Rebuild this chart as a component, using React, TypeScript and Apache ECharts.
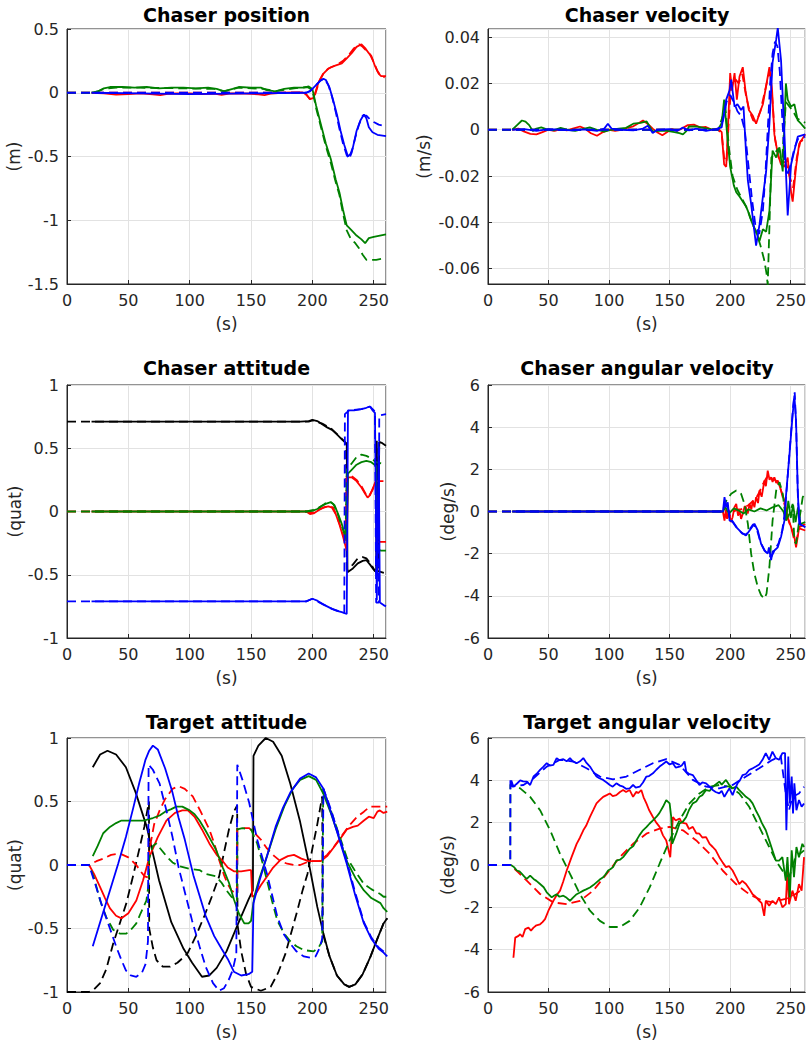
import React, { useEffect, useRef } from "react";
import * as echarts from "echarts";

type P = [number, number][];

// ---------- Panel titles / axis names ----------
const titles = ["Chaser position", "Chaser velocity", "Chaser attitude", "Chaser angular velocity", "Target attitude", "Target angular velocity"];
const yNames = ["(m)", "(m/s)", "(quat)", "(deg/s)", "(quat)", "(deg/s)"];
const xName = "(s)";

// ---------- Chaser position (m) ----------
const posRedSolid: P = [[20,0],[30,-0.005],[40,-0.015],[50,-0.01],[60,-0.005],[70,-0.012],[76,-0.018],[82,-0.008],[90,-0.006],[100,-0.005],[110,-0.01],[120,-0.006],[126,-0.016],[132,-0.006],[140,-0.005],[150,-0.008],[156,-0.012],[161,-0.018],[166,-0.006],[175,0],[185,0.003],[192,0.002],[195,-0.012],[198,-0.05],[201,-0.04],[205,0.08],[209,0.15],[213,0.19],[218,0.21],[224,0.23],[228,0.27],[232,0.31],[236,0.36],[240,0.38],[243,0.35],[246,0.31],[248,0.29],[251,0.21],[254,0.15],[256,0.13],[260,0.13]];
const posRedDashed: P = [[0,0],[190,0],[195,-0.015],[198,-0.05],[202,-0.02],[206,0.1],[210,0.17],[215,0.2],[220,0.22],[225,0.25],[230,0.3],[234,0.35],[238,0.38],[241,0.36],[244,0.33],[247,0.3],[250,0.24],[253,0.17],[256,0.13],[259,0.12]];
const posGreenSolid: P = [[20,0],[25,0.01],[30,0.035],[35,0.045],[45,0.045],[55,0.04],[65,0.045],[75,0.035],[85,0.04],[95,0.04],[105,0.035],[115,0.04],[122,0.03],[128,0.01],[135,0.03],[140,0.045],[150,0.04],[158,0.04],[163,0.02],[170,0.01],[177,0.03],[185,0.04],[193,0.04],[197,0.05],[200,0.03],[203,-0.1],[207,-0.25],[211,-0.4],[215,-0.52],[219,-0.68],[222,-0.78],[225,-0.92],[228,-1.04],[232,-1.08],[236,-1.12],[240,-1.15],[243,-1.18],[246,-1.14],[250,-1.13],[255,-1.12],[260,-1.11]];
const posGreenDashed: P = [[0,0],[20,0],[25,0.01],[30,0.03],[40,0.04],[60,0.04],[90,0.035],[120,0.03],[128,0.012],[140,0.04],[160,0.03],[170,0.012],[185,0.035],[196,0.045],[200,0.02],[203,-0.12],[207,-0.27],[211,-0.42],[215,-0.55],[219,-0.7],[222,-0.8],[225,-0.95],[228,-1.08],[231,-1.14],[235,-1.18],[238,-1.22],[241,-1.27],[244,-1.31],[248,-1.31],[252,-1.31],[258,-1.3]];
const posBlueSolid: P = [[20,0],[60,-0.005],[100,-0.01],[150,-0.005],[195,0],[198,0.01],[202,0.05],[206,0.09],[209,0.11],[211,0.1],[214,0.04],[217,-0.06],[220,-0.17],[223,-0.3],[226,-0.41],[229,-0.5],[231,-0.48],[233,-0.43],[236,-0.3],[239,-0.22],[242,-0.17],[244,-0.2],[246,-0.27],[249,-0.31],[253,-0.33],[260,-0.34]];
const posBlueDashed: P = [[0,0],[195,0],[199,0.02],[203,0.06],[207,0.1],[210,0.11],[213,0.06],[216,-0.03],[219,-0.15],[222,-0.28],[225,-0.4],[228,-0.49],[230,-0.52],[232,-0.47],[235,-0.35],[238,-0.25],[241,-0.18],[244,-0.18],[247,-0.21],[250,-0.23],[254,-0.25],[258,-0.26]];

// ---------- Chaser velocity (m/s) ----------
const velRedSolid: P = [[20,0],[25,0.0005],[30,-0.0008],[35,-0.0018],[40,-0.002],[45,-0.001],[50,0],[55,-0.0005],[60,0.0003],[65,-0.0003],[70,0.0005],[76,0.0014],[80,0.0005],[85,-0.0015],[90,-0.0026],[95,-0.001],[100,0],[105,-0.0005],[110,0],[115,0.0008],[120,0.0015],[125,0.003],[128,0.004],[132,0.0025],[136,0.0005],[140,-0.0012],[144,-0.0024],[148,-0.001],[152,0.0003],[156,-0.0005],[160,0.0005],[165,0.002],[170,0.0022],[175,0.001],[180,0.0012],[185,0],[190,0.0005],[193,-0.001],[195,-0.015],[196.7,-0.016],[198,-0.002],[200,0.0245],[201.6,0.017],[203.6,0.0245],[205.5,0.013],[207.7,0.023],[210.4,0.027],[212.6,0.017],[215.4,0.0085],[218.7,0.006],[221.4,0.0026],[224.2,0.007],[227,0.011],[229.7,0.019],[232.4,0.027],[234.6,0.017],[236.5,-0.002],[239.3,-0.0105],[242,-0.015],[244.8,-0.016],[247.5,-0.012],[250.3,-0.027],[251.6,-0.031],[254.4,-0.016],[257,-0.006],[262,-0.002]];
const velRedDashed: P = [[0,0],[190,0],[193,-0.002],[195,-0.012],[197,-0.014],[199,0.005],[201,0.02],[204,0.022],[207,0.02],[210,0.024],[213,0.015],[216,0.008],[219,0.004],[222,0.004],[225,0.008],[228,0.015],[231,0.022],[233,0.025],[235,0.012],[237,-0.004],[240,-0.012],[243,-0.014],[246,-0.014],[249,-0.02],[252,-0.025],[255,-0.012],[258,-0.005],[262,-0.004]];
const velGreenSolid: P = [[20,0],[24,0.002],[28,0.004],[31,0.0035],[34,0.002],[37,-0.0005],[40,0.0005],[44,0.001],[48,0.0003],[54,-0.0003],[60,0.0008],[66,0],[72,-0.0005],[78,0.0003],[84,0.001],[90,0],[96,-0.0008],[102,0],[108,0.0005],[114,0.0008],[120,0.0026],[126,0.003],[131,0.0036],[134,0.001],[136,-0.0007],[142,-0.0005],[148,-0.0005],[154,-0.001],[158,-0.0015],[161,-0.002],[164,-0.0005],[166,0.0014],[172,0.0015],[178,0.0008],[184,0.0003],[190,0],[193,0.003],[195,0.013],[198,-0.005],[200,-0.016],[203,-0.024],[205,-0.027],[208,-0.029],[210.4,-0.031],[213,-0.033],[214.6,-0.035],[216.5,-0.038],[218.7,-0.041],[221.4,-0.044],[224.2,-0.048],[227,-0.043],[229.7,-0.044],[232.4,-0.035],[235,-0.009],[238,-0.012],[240.7,-0.0076],[243.4,-0.018],[246,0.02],[247.5,0.013],[250.3,0.01],[253,0.011],[255.8,0.004],[258.5,0.0026],[262,0.0005]];
const velGreenDashed: P = [[0,0],[190,0],[194,0.006],[196,0.01],[199,-0.008],[202,-0.02],[206,-0.026],[210,-0.03],[214,-0.034],[218,-0.04],[222,-0.045],[225,-0.05],[228,-0.056],[230,-0.062],[231,-0.067],[232.5,-0.04],[234,-0.012],[237,-0.01],[240,-0.008],[243,-0.012],[246,0.012],[249,0.01],[252,0.008],[255,0.005],[258,0.004],[262,0.003]];
const velBlueSolid: P = [[20,0],[30,0.0003],[40,-0.0005],[50,0.0003],[60,0],[70,-0.0003],[80,0.0002],[90,-0.0005],[96,0.0005],[99,0.0026],[102,0.0005],[110,0],[120,-0.0003],[128,0.0005],[132,0.0017],[136,-0.0014],[140,0],[150,0.0003],[156,-0.0005],[161,0.001],[166,-0.0003],[172,0.0005],[180,-0.0005],[188,0.0003],[193,0.001],[196.7,0.013],[199.5,0.017],[200.8,0.0216],[203.6,0.01],[206,0.011],[209,0.0085],[211,0.01],[213,-0.009],[214.6,-0.022],[217.3,-0.032],[220,-0.044],[221.4,-0.05],[224.2,-0.041],[227,-0.029],[229.7,-0.018],[232.4,0.0026],[235,0.029],[238,0.039],[239.3,0.044],[242,0.03],[244.8,-0.002],[247.5,-0.037],[250.3,-0.015],[253,-0.009],[255.8,-0.003],[262,-0.002]];
const velBlueDashed: P = [[0,0],[190,0],[194,0.004],[197,0.012],[200,0.015],[203,0.012],[206,0.008],[209,0.006],[212,0],[215,-0.015],[218,-0.03],[221,-0.042],[224,-0.045],[227,-0.035],[229,-0.02],[231,0],[233,0.02],[235,0.033],[237,0.038],[239,0.036],[241,0.025],[243,0.005],[245,-0.012],[247,-0.02],[250,-0.015],[253,-0.008],[256,-0.004],[262,-0.003]];

// ---------- Chaser attitude (quat) ----------
const attRedSolid: P = [[20,0],[195,0],[198,-0.02],[201,-0.015],[205,0.01],[209,0.03],[213,0.04],[216,0.03],[219,-0.02],[222,-0.1],[225,-0.2],[228,-0.31],[229,0.27],[232,0.27],[236,0.24],[240,0.19],[243,0.14],[245,0.11],[247,0.13],[250,0.2],[252,0.25],[252.5,-0.24],[260,-0.24]];
const attRedDashed: P = [[0,0],[195,0],[200,-0.01],[205,0.015],[210,0.035],[214,0.045],[217,0.03],[220,-0.04],[224,-0.15],[227,-0.25],[228,0.28],[232,0.28],[236,0.25],[240,0.2],[244,0.13],[246,0.12],[249,0.17],[252,0.24],[260,0.24]];
const attGreenSolid: P = [[20,0],[195,0],[200,0.005],[204,0.02],[208,0.045],[212,0.065],[215,0.074],[218,0.05],[221,-0.02],[224,-0.1],[228,-0.23],[229,0.3],[232,0.33],[236,0.37],[240,0.39],[244,0.4],[248,0.39],[252,0.36],[252.5,-0.3],[256,-0.31],[260,-0.31]];
const attGreenDashed: P = [[0,0],[195,0],[200,0.01],[205,0.03],[210,0.06],[214,0.08],[217,0.06],[220,0],[224,-0.12],[227,-0.2],[228,0.33],[232,0.38],[236,0.43],[240,0.45],[244,0.44],[248,0.42],[252,0.39],[256,0.38],[260,0.37]];
const attBlueSolid: P = [[20,-0.71],[195,-0.71],[200,-0.69],[204,-0.705],[208,-0.73],[212,-0.75],[216,-0.77],[220,-0.785],[224,-0.795],[228,-0.81],[229,0.8],[234,0.8],[240,0.81],[244,0.82],[247,0.83],[249,0.8],[251,0.78],[252.5,-0.7],[254,0.55],[255,-0.72],[258,-0.74],[260,-0.75]];
const attBlueDashed: P = [[0,-0.71],[195,-0.71],[200,-0.69],[208,-0.73],[216,-0.77],[224,-0.795],[226,-0.8],[226.5,0.77],[230,0.8],[240,0.81],[247,0.83],[251,0.79],[252,-0.72],[254,-0.72],[254.5,0.76],[260,0.77]];
const attBlackSolid: P = [[20,0.71],[100,0.71],[190,0.71],[197,0.715],[200,0.724],[204,0.715],[208,0.69],[212,0.665],[216,0.645],[220,0.61],[224,0.57],[228,0.535],[228.6,-0.48],[233,-0.45],[237,-0.41],[241,-0.39],[244,-0.385],[247,-0.42],[250,-0.46],[252,-0.48],[252.5,0.56],[253.5,-0.45],[254.5,0.55],[257,0.54],[260,0.52]];
const attBlackDashed: P = [[0,0.71],[197,0.71],[200,0.72],[208,0.695],[216,0.65],[224,0.575],[227.5,0.54],[228,-0.46],[233,-0.42],[237,-0.37],[241,-0.36],[244,-0.37],[248,-0.42],[251,-0.47],[252,-0.48],[252.3,0.5],[253,-0.47],[260,-0.49]];

// ---------- Chaser angular velocity (deg/s) ----------
const angRedSolid: P = [[20,0],[194,0],[195.3,-0.43],[196.5,0.1],[197.5,-0.35],[199,0.05],[200.5,-0.5],[202,-0.27],[203.5,0.2],[205,0.36],[206.5,-0.2],[207.7,0.05],[209,-0.35],[210.4,-0.1],[212,0.25],[213,0.2],[214.5,-0.1],[216,0.36],[217.5,0.1],[218.7,0.52],[220,0.2],[221.4,0.68],[223,0.4],[224.2,1.0],[226,0.7],[228.3,1.47],[229.5,1.2],[231,1.94],[232.5,1.5],[233.8,1.62],[235,1.4],[236.5,1.62],[238,1.35],[239.3,1.47],[242,1.0],[244.8,0.52],[247.5,-0.27],[250.3,-0.74],[253,-1.2],[254.4,-1.7],[257,-0.74],[262,-0.6]];
const angRedDashed: P = [[0,0],[194,0],[197,-0.3],[200,-0.2],[203,0],[206,0.1],[209,0.1],[212,0.2],[215,0.3],[218,0.45],[221,0.6],[224,0.9],[227,1.3],[230,1.6],[233,1.65],[236,1.55],[239,1.4],[242,1.0],[245,0.3],[248,-0.4],[251,-0.9],[253.5,-1.5],[255,-1.3],[257,-0.8],[262,-0.9]];
const angGreenSolid: P = [[20,0],[194,0],[196,0.2],[199,-0.1],[203,0.15],[207,0.05],[211,-0.1],[215,0.1],[220,0],[225,0.15],[230,0.05],[235,0.2],[240,0.3],[244,0],[246,-0.4],[248,0.5],[250,-0.3],[252,0.3],[254,-0.5],[256,0.2],[258,-0.6],[262,-0.5]];
const angGreenDashed: P = [[0,0],[194,0],[196.7,0.5],[200.8,0.84],[205,1.0],[209,0.84],[211.8,0.36],[214.6,-0.58],[217.3,-2.0],[220,-2.95],[222.8,-3.58],[225.5,-3.97],[228.3,-4.13],[230,-3.9],[232.4,-2.63],[235,-0.43],[238,1.0],[240.7,1.39],[243.4,0.84],[246,-0.43],[249,-0.1],[251.6,0.36],[253,-1.37],[254.4,-1.53],[257,-0.43],[259.9,0.68],[262,0.84]];
const angBlueSolid: P = [[20,0],[194,0],[195.3,0.68],[196.7,0.2],[198,0.44],[199.5,-0.43],[202,-0.5],[205,-0.74],[209,-0.98],[213,-1.14],[216,-0.9],[220,-0.58],[222.8,-0.9],[225.5,-1.53],[228.3,-1.85],[231,-2.0],[232,-1.7],[233.8,-2.3],[235,-1.9],[236.5,-1.85],[239.3,-1.7],[242,-1.2],[244.8,-0.43],[246,0.68],[249,2.73],[251.6,4.6],[253,5.5],[254.4,4.3],[255.8,1.0],[257,-0.58],[262,-0.74]];
const angBlueDashed: P = [[0,0],[194,0],[196,0.5],[198,0.2],[200,-0.3],[203,-0.55],[206,-0.8],[210,-1.05],[213,-1.1],[216,-0.85],[219,-0.6],[222,-0.85],[225,-1.45],[228,-1.8],[231,-2.05],[234,-2.15],[237,-1.8],[240,-1.5],[243,-0.9],[245,-0.1],[247,1.3],[249.5,3.2],[252,5.0],[253.3,5.65],[254.5,4.0],[256,0.5],[258,-0.7],[262,-0.75]];

// ---------- Target attitude (quat) ----------
const tatRedSolid: P = [[18,0],[22,-0.07],[26.8,-0.17],[31,-0.26],[34.9,-0.34],[40,-0.4],[44.4,-0.42],[50,-0.38],[56.5,-0.28],[62,-0.12],[67.4,0.07],[74,0.22],[81,0.35],[88,0.41],[94,0.43],[98.5,0.43],[104,0.38],[110,0.28],[116,0.17],[122,0.08],[127,0.03],[131,-0.02],[136,-0.05],[142,-0.05],[148.5,-0.04],[150,-0.04],[151,-0.25],[153,-0.24],[158,-0.16],[163,-0.09],[168,-0.02],[174,0.04],[180,0.07],[185,0.08],[191,0.05],[197,0.03],[202,0.03],[206.7,0.03],[212,0.07],[217.5,0.14],[223,0.21],[228,0.28],[233,0.3],[237,0.31],[242,0.35],[246,0.38],[250,0.37],[253,0.42],[255,0.43],[258,0.41],[261,0.42]];
const tatRedDashed: P = [[0,0],[18,0],[24,0.03],[29.5,0.05],[36,0.08],[43,0.09],[50,0.06],[56.5,0],[60,-0.05],[63.3,-0.09],[66.6,-0.1],[66.8,0.1],[71,0.32],[75.5,0.43],[80,0.52],[86,0.6],[91,0.62],[96,0.6],[102.5,0.54],[109,0.42],[116,0.28],[120,0.17],[124,0.04],[128,-0.08],[131,-0.15],[134,-0.2],[138.5,-0.23],[138.8,0.28],[143,0.29],[148.5,0.29],[153,0.25],[158,0.2],[163,0.13],[169,0.07],[174,0.03],[179.6,0.01],[185,0],[190,0],[195,0.02],[200,0.03],[206,0.03],[212,0.08],[218,0.15],[224,0.23],[230,0.31],[236.5,0.38],[242,0.42],[247,0.46],[252,0.46],[258,0.46],[261,0.46]];
const tatGreenSolid: P = [[21,0.07],[25,0.15],[29.5,0.25],[35,0.3],[40,0.33],[44.4,0.35],[50,0.35],[56,0.35],[62.8,0.35],[66,0.36],[70,0.37],[75.5,0.39],[80,0.42],[85,0.44],[89,0.46],[94,0.46],[100,0.43],[104,0.4],[108,0.35],[113,0.27],[117,0.2],[121.5,0.12],[127,-0.02],[132,-0.14],[136,-0.27],[140,-0.38],[144.5,-0.46],[148,-0.46],[150,-0.44],[152.6,-0.25],[157,-0.1],[163,0.07],[170,0.28],[177,0.46],[184,0.6],[190,0.67],[197,0.7],[203,0.67],[209,0.56],[215,0.41],[221,0.24],[228,0.03],[235,-0.1],[242,-0.2],[248,-0.26],[255.5,-0.3],[258,-0.34],[261,-0.37]];
const tatGreenDashed: P = [[0,0],[18,0],[22,-0.1],[27,-0.28],[32,-0.41],[37.6,-0.51],[43,-0.54],[48.4,-0.54],[53,-0.5],[56.5,-0.46],[60,-0.38],[64.7,-0.28],[66.5,-0.15],[67,0.05],[70,0.15],[72.8,0.17],[76,0.13],[81,0.07],[86,0.02],[91.7,-0.01],[100,-0.03],[108,-0.04],[113,-0.07],[121.5,-0.09],[126,-0.14],[130,-0.2],[134,-0.25],[138.5,-0.28],[138.9,0.28],[143,0.29],[150,0.28],[155,0.17],[159,0.03],[163,-0.12],[167,-0.28],[171.5,-0.44],[177,-0.54],[182,-0.6],[187,-0.64],[193,-0.67],[201,-0.68],[205,-0.65],[208,-0.6],[208.8,0.6],[215,0.43],[221,0.26],[228,0.06],[235,-0.05],[242,-0.15],[248,-0.19],[255.5,-0.23],[258,-0.25],[261,-0.25]];
const tatBlueSolid: P = [[21,-0.64],[28,-0.42],[35,-0.2],[41.7,0.01],[48,0.22],[54,0.45],[59,0.65],[64,0.83],[67,0.9],[70,0.94],[74,0.91],[80,0.76],[86,0.57],[91,0.37],[96,0.2],[103,-0.08],[108,-0.24],[113,-0.4],[120,-0.56],[126,-0.66],[131,-0.74],[136,-0.84],[142,-0.87],[148,-0.86],[151,-0.84],[152,-0.3],[157,-0.12],[163,0.07],[170,0.3],[176,0.45],[182,0.57],[190,0.68],[197,0.72],[203,0.69],[209,0.6],[215,0.42],[222,0.2],[228,0.01],[235,-0.24],[242,-0.46],[248,-0.58],[254,-0.66],[258,-0.69],[261,-0.72]];
const tatBlueDashed: P = [[0,0],[18,0],[23,-0.15],[29.5,-0.35],[35,-0.5],[40,-0.64],[44,-0.74],[48,-0.83],[52,-0.87],[56.5,-0.88],[61,-0.85],[64,-0.78],[66,-0.6],[66.5,0.79],[70,0.75],[75.5,0.64],[81,0.43],[86,0.22],[91,-0.02],[97,-0.25],[102,-0.44],[108,-0.64],[113,-0.8],[119,-0.93],[124,-0.99],[128,-0.97],[132,-0.9],[135,-0.83],[138,-0.7],[138.8,0.79],[143,0.67],[148.5,0.49],[155,0.2],[163,-0.07],[171.5,-0.41],[177,-0.55],[182,-0.62],[187,-0.68],[193,-0.72],[198,-0.73],[202.6,-0.72],[206,-0.65],[208,-0.58],[209,0.6],[215,0.44],[222,0.22],[228,0.03],[235,-0.22],[242,-0.45],[248,-0.57],[254,-0.65],[258,-0.68],[261,-0.71]];
const tatBlackSolid: P = [[21,0.77],[27,0.87],[33,0.9],[40,0.87],[48,0.77],[56,0.57],[65,0.3],[75,-0.12],[85,-0.45],[95,-0.66],[102,-0.77],[110,-0.88],[116,-0.87],[122,-0.81],[130,-0.68],[140,-0.45],[148,-0.27],[151.5,-0.2],[152,0.86],[156,0.94],[162,1.0],[168,0.97],[175,0.86],[182,0.64],[190,0.34],[197,0.02],[204,-0.33],[209,-0.54],[214,-0.72],[220,-0.87],[226,-0.94],[230,-0.96],[235,-0.94],[241,-0.86],[247,-0.73],[253,-0.58],[258,-0.46],[261,-0.42]];
const tatBlackDashed: P = [[0,-1],[18,-1],[22,-0.98],[27,-0.93],[32,-0.82],[37.6,-0.62],[43,-0.46],[48.4,-0.3],[54,-0.08],[59.3,0.14],[63,0.3],[66.8,0.5],[67,-0.5],[70,-0.65],[73,-0.75],[78,-0.8],[84,-0.8],[90,-0.77],[98,-0.7],[105,-0.56],[112,-0.4],[118,-0.25],[124,-0.09],[128,0.1],[132,0.28],[136,0.42],[138.7,0.47],[139,-0.47],[142,-0.68],[146,-0.86],[150,-0.96],[158,-0.99],[166,-0.96],[172,-0.85],[178,-0.7],[182,-0.56],[188,-0.35],[192,-0.2],[196,-0.07],[200,0.13],[204,0.32],[208,0.54],[208.5,-0.54],[214,-0.72],[220,-0.87],[226,-0.94],[230,-0.96],[235,-0.94],[241,-0.86],[247,-0.73],[253,-0.58],[258,-0.46],[261,-0.42]];

// ---------- Target angular velocity (deg/s) ----------
const tavRedSolid: P = [[21,-4.38],[22.5,-3.43],[25.2,-3.35],[26.6,-3.27],[28.5,-3.4],[30.7,-3.03],[33.4,-2.96],[35.5,-3.1],[37.6,-2.96],[40,-2.85],[43,-2.8],[45,-2.7],[47.1,-2.56],[49.9,-2.16],[54,-1.69],[57,-1.4],[59.5,-1.21],[62,-0.8],[65,-0.26],[69,0.37],[73.2,1.0],[76,1.3],[78.7,1.64],[81,1.85],[84.2,2.27],[87,2.6],[89.6,2.91],[92,3.05],[95.1,3.22],[98,3.3],[100.6,3.38],[103,3.25],[106,3.3],[109,3.45],[111.6,3.54],[114,3.45],[117,3.54],[119.8,3.22],[122.5,3.46],[124,3.4],[126.6,3.54],[128.5,3.2],[130.8,2.91],[133,2.6],[136.2,2.27],[139,2.0],[141.7,1.8],[144.5,1.4],[147.2,1.16],[150.5,0.37],[152.7,2.27],[155,2.1],[158.2,2.2],[160,2.0],[163.7,1.96],[166,1.7],[169.1,1.8],[172,1.5],[174.6,1.48],[177,1.3],[180.1,1.32],[183,1.0],[185.6,0.85],[188,0.7],[191,0.37],[194,0.1],[196.5,-0.1],[199,-0.05],[202,-0.26],[205,-0.6],[207.5,-0.9],[210,-0.75],[213,-0.9],[216,-1.15],[218.5,-1.38],[221,-1.5],[224,-1.69],[226,-1.8],[228.1,-2.4],[229.4,-1.69],[232.2,-1.93],[234.9,-1.69],[237.7,-1.85],[240.4,-1.53],[243.1,-2.0],[245.9,-1.85],[247.3,-0.26],[248.6,-1.85],[251.4,-1.21],[254.1,-1.69],[256.8,-0.9],[259,-1.21],[261,0.37]];
const tavRedDashed: P = [[0,0],[18.4,0],[25,-0.35],[32,-0.74],[43,-1.37],[54,-1.77],[65,-1.85],[76,-1.69],[86.9,-1.21],[97.9,-0.42],[108.8,0.37],[119.8,1.0],[130.8,1.48],[141.7,1.72],[150,1.8],[161,1.64],[172,1.16],[183,0.53],[193.8,-0.26],[204.8,-0.9],[215.7,-1.38],[226.7,-1.69],[235,-1.75],[245.9,-1.6],[253,-1.4],[261,-1.1]];
const tavGreenSolid: P = [[19,0],[21.5,-0.1],[23.8,-0.26],[26,-0.3],[28,-0.42],[30,-0.55],[32,-0.66],[34.8,-0.5],[37.6,-0.66],[40,-0.75],[43,-0.9],[46,-1.05],[48.5,-1.29],[52.6,-1.53],[54.5,-1.45],[56.7,-1.38],[59,-1.5],[62.2,-1.45],[65,-1.55],[67.7,-1.69],[70,-1.55],[73.2,-1.38],[76,-1.3],[78.7,-1.21],[81,-1.15],[84.2,-1.06],[87,-0.95],[89.6,-0.82],[92,-0.7],[95.1,-0.58],[97,-0.45],[99.2,-0.26],[101,-0.2],[103.3,-0.1],[106,0.21],[109,0.25],[111.6,0.37],[114,0.55],[117,0.77],[120,0.9],[122.5,1.16],[125,1.4],[128,1.64],[131,1.8],[133.5,1.96],[136,2.1],[139,2.27],[141.5,2.45],[144.5,2.75],[147.2,3.07],[150,2.91],[151.3,2.27],[152.1,1.0],[155.4,1.48],[158.2,1.96],[161,2.05],[163.7,2.27],[166,2.6],[169.1,2.91],[172,3.0],[174.6,3.22],[177,3.3],[180.1,3.54],[183,3.5],[185.6,3.7],[188,3.8],[191,3.94],[193,3.8],[196.5,4.02],[199,3.8],[202,3.62],[205,3.7],[207.5,3.54],[210,3.4],[213,3.22],[216,3.1],[218.5,2.91],[221,2.6],[224,2.27],[226,2.0],[229.4,1.64],[232,1.2],[234.9,0.69],[237.7,0.21],[240.4,0.21],[243.1,0.37],[245.9,-0.74],[247.3,0.37],[249.2,-1.53],[250.8,0.69],[252.7,-0.58],[254.7,0.85],[256.8,0.37],[259.6,1.0],[261,0.85]];
const tavGreenDashed: P = [[0,0],[18.4,0],[18.5,3.8],[26.6,3.62],[34.8,3.22],[43,2.59],[51.3,1.64],[59.5,0.53],[67.7,-0.42],[76,-1.38],[84.2,-2.16],[92.4,-2.64],[100.6,-2.93],[108.8,-2.93],[117,-2.64],[125.3,-2.0],[133.5,-1.06],[141.7,0.06],[150,1.16],[158.2,2.11],[166.4,2.91],[174.6,3.38],[182.8,3.7],[191,3.78],[199.3,3.7],[207.5,3.38],[215.7,2.75],[224,1.8],[232.2,0.85],[237.7,0.21],[243.1,-0.26],[248.6,-0.58],[254,0.37],[261,0.69]];
const tavBlueSolid: P = [[19.2,4.0],[21,3.7],[24,3.85],[26.6,4.0],[29,3.95],[32,3.94],[34.8,3.78],[37.6,4.18],[40,4.3],[43,4.49],[45.8,4.65],[48.5,4.81],[51,4.7],[54,4.73],[56.7,5.05],[59,4.95],[62.2,5.0],[65,4.9],[67.7,5.05],[70,4.9],[73.2,4.81],[76,4.9],[78.7,5.05],[81,4.85],[84.2,4.65],[87,4.4],[89.6,4.18],[92,4.1],[95.1,4.02],[98,3.9],[100.6,3.78],[103,3.7],[106,3.86],[109,3.75],[111.6,3.7],[114,3.6],[117,3.62],[119.8,3.78],[122,3.65],[125.3,3.7],[128,3.9],[130.8,4.18],[133,4.2],[136.2,4.33],[139,4.5],[141.7,4.65],[144,4.75],[147.2,4.89],[150,4.75],[152.7,4.81],[155,4.6],[158.2,4.65],[160,4.7],[162.3,4.89],[163.7,4.41],[166,4.3],[169.1,4.25],[172,4.0],[174.6,3.78],[177,3.9],[180.1,3.86],[183,3.7],[185.6,3.54],[188,3.45],[191,3.38],[193,3.5],[195.2,3.22],[197,3.4],[199.3,3.62],[202,3.3],[204,3.6],[206.1,3.86],[208,4.0],[210.3,4.25],[213,4.3],[215.7,4.49],[218,4.55],[221.2,4.65],[224,4.75],[226.7,4.97],[229.4,5.29],[232.2,4.97],[234.9,5.36],[237.7,5.05],[240.4,4.97],[243.1,5.29],[245.3,5.29],[246.4,1.64],[248,5.13],[249.2,2.91],[250.8,4.18],[251.9,2.43],[253,3.86],[254.7,2.59],[256.8,3.07],[259,2.75],[261,2.91]];
const tavBlueDashed: P = [[0,0],[18.4,0],[18.5,4.1],[20,3.7],[29.3,3.78],[37.6,4.1],[48.5,4.65],[59.5,4.97],[70.4,4.89],[81.4,4.57],[92.4,4.18],[103.3,4.05],[114.3,4.18],[125.3,4.5],[136.2,4.81],[147.2,5.0],[158.2,4.73],[169.1,4.02],[180.1,3.7],[191,3.62],[202,3.78],[213,4.18],[224,4.57],[235,4.97],[241.8,5.13],[245.9,3.38],[248.6,2.59],[251.4,3.22],[256.8,3.38],[261,3.7]];

// ---------- axis ranges ----------
const xMaxes = [260, 262, 260, 262, 260, 262];
const yMins = [-1.5, -0.0666, -1, -6, -1, -6];
const yMaxes = [0.5, 0.0435, 1, 6, 1, 6];
const yIntervals = [0.5, 0, 0.5, 2, 0.5, 2]; // 0 => automatic (nice 0.02 step)

const RED = "#ff0000";
const GREEN = "#008000";
const BLUE = "#0000ff";
const BLACK = "#000000";

type S = { d: P; c: string; dash: boolean };
const panelSeries: S[][] = [
  [
    { d: posRedSolid, c: RED, dash: false }, { d: posRedDashed, c: RED, dash: true },
    { d: posGreenSolid, c: GREEN, dash: false }, { d: posGreenDashed, c: GREEN, dash: true },
    { d: posBlueSolid, c: BLUE, dash: false }, { d: posBlueDashed, c: BLUE, dash: true },
  ],
  [
    { d: velRedSolid, c: RED, dash: false }, { d: velRedDashed, c: RED, dash: true },
    { d: velGreenSolid, c: GREEN, dash: false }, { d: velGreenDashed, c: GREEN, dash: true },
    { d: velBlueSolid, c: BLUE, dash: false }, { d: velBlueDashed, c: BLUE, dash: true },
  ],
  [
    { d: attBlackSolid, c: BLACK, dash: false }, { d: attBlackDashed, c: BLACK, dash: true },
    { d: attRedSolid, c: RED, dash: false }, { d: attRedDashed, c: RED, dash: true },
    { d: attGreenSolid, c: GREEN, dash: false }, { d: attGreenDashed, c: GREEN, dash: true },
    { d: attBlueSolid, c: BLUE, dash: false }, { d: attBlueDashed, c: BLUE, dash: true },
  ],
  [
    { d: angRedSolid, c: RED, dash: false }, { d: angRedDashed, c: RED, dash: true },
    { d: angGreenSolid, c: GREEN, dash: false }, { d: angGreenDashed, c: GREEN, dash: true },
    { d: angBlueSolid, c: BLUE, dash: false }, { d: angBlueDashed, c: BLUE, dash: true },
  ],
  [
    { d: tatBlackSolid, c: BLACK, dash: false }, { d: tatBlackDashed, c: BLACK, dash: true },
    { d: tatRedSolid, c: RED, dash: false }, { d: tatRedDashed, c: RED, dash: true },
    { d: tatGreenSolid, c: GREEN, dash: false }, { d: tatGreenDashed, c: GREEN, dash: true },
    { d: tatBlueSolid, c: BLUE, dash: false }, { d: tatBlueDashed, c: BLUE, dash: true },
  ],
  [
    { d: tavRedSolid, c: RED, dash: false }, { d: tavRedDashed, c: RED, dash: true },
    { d: tavGreenSolid, c: GREEN, dash: false }, { d: tavGreenDashed, c: GREEN, dash: true },
    { d: tavBlueSolid, c: BLUE, dash: false }, { d: tavBlueDashed, c: BLUE, dash: true },
  ],
];

const FONT = "'DejaVu Sans', Verdana, sans-serif";
const AX = "#262626";

const grids = [
  { left: 67, top: 29, width: 319, height: 255 },
  { left: 488, top: 29, width: 318, height: 255 },
  { left: 67, top: 385, width: 319, height: 253 },
  { left: 488, top: 385, width: 318, height: 253 },
  { left: 67, top: 738, width: 319, height: 254 },
  { left: 488, top: 738, width: 318, height: 254 },
];
const titleY = [15, 15, 368, 368, 722, 722];
const yNameGaps = [45, 56, 43, 32, 43, 32];

function buildOption() {
  const grid = grids.map((g) => ({ ...g, show: true, borderColor: AX, borderWidth: 1, backgroundColor: "transparent" }));
  const xAxis = grids.map((_, i) => ({
    type: "value",
    gridIndex: i,
    min: 0,
    max: xMaxes[i],
    interval: 50,
    name: xName,
    nameLocation: "middle",
    nameGap: 31,
    nameTextStyle: { fontFamily: FONT, fontSize: 17, color: AX },
    axisLine: { show: true, onZero: false, lineStyle: { color: AX, width: 1 } },
    axisTick: { show: true, inside: true, length: 4, lineStyle: { color: AX } },
    axisLabel: { color: AX, fontFamily: FONT, fontSize: 16, margin: 8, showMaxLabel: false },
    splitLine: { show: true, lineStyle: { color: "#e2e2e2", width: 1 } },
  }));
  const yAxis = grids.map((_, i) => {
    const base: any = {
      type: "value",
      gridIndex: i,
      min: yMins[i],
      max: yMaxes[i],
      name: yNames[i],
      nameLocation: "middle",
      nameGap: yNameGaps[i],
      nameTextStyle: { fontFamily: FONT, fontSize: 17, color: AX },
      axisLine: { show: true, onZero: false, lineStyle: { color: AX, width: 1 } },
      axisTick: { show: true, inside: true, length: 4, lineStyle: { color: AX } },
      axisLabel: { color: AX, fontFamily: FONT, fontSize: 16, margin: 8 },
      splitLine: { show: true, lineStyle: { color: "#e2e2e2", width: 1 } },
    };
    if (yIntervals[i] > 0) {
      base.interval = yIntervals[i];
    } else {
      base.splitNumber = 5;
      base.axisLabel.showMinLabel = false;
      base.axisLabel.showMaxLabel = false;
    }
    return base;
  });
  const series: any[] = [];
  panelSeries.forEach((list, i) => {
    list.forEach((s) => {
      series.push({
        type: "line",
        xAxisIndex: i,
        yAxisIndex: i,
        data: s.d,
        symbol: "none",
        showSymbol: false,
        silent: true,
        clip: true,
        lineStyle: { color: s.c, width: 1.8, type: s.dash ? [9, 5] : "solid" },
        itemStyle: { color: s.c },
      });
    });
  });
  const graphic = grids.map((g, i) => ({
    type: "text",
    x: g.left + g.width / 2,
    y: titleY[i],
    silent: true,
    style: {
      text: titles[i],
      font: `bold 19px ${FONT}`,
      fill: "#000000",
      align: "center",
      verticalAlign: "middle",
      textAlign: "center",
      textVerticalAlign: "middle",
    },
  }));
  return { animation: false, backgroundColor: "#ffffff", grid, xAxis, yAxis, series, graphic };
}

export default function App() {
  const ref = useRef<HTMLDivElement>(null);
  useEffect(() => {
    if (!ref.current) return;
    const chart = echarts.init(ref.current, undefined, { renderer: "svg" });
    chart.setOption(buildOption() as any);
    return () => chart.dispose();
  }, []);
  return <div ref={ref} style={{ position: "absolute", left: 0, top: 0, width: 809, height: 1045 }} />;
}
